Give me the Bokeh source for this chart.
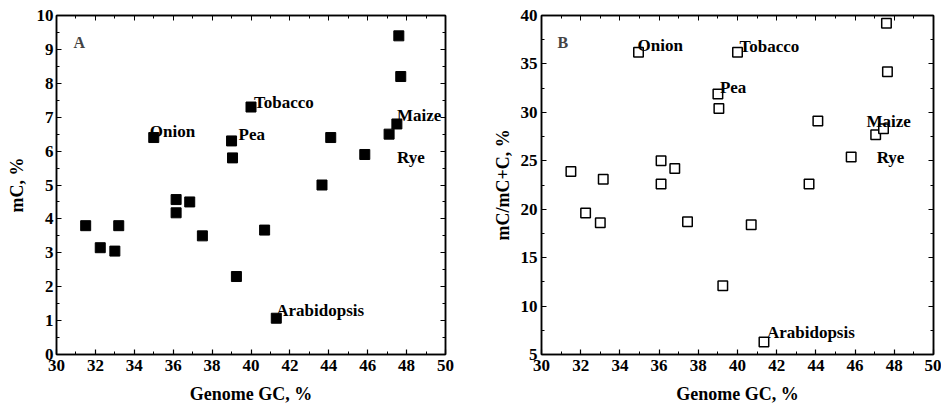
from bokeh.plotting import figure
from bokeh.models import Range1d, SingleIntervalTicker, LinearAxis, Label
from bokeh.layouts import row
from bokeh.embed import file_html
from bokeh.resources import INLINE

# ---- data ----
gc_a = [31.5, 32.25, 33.0, 33.2, 35.0, 36.15, 36.15, 36.85, 37.5, 39.0, 39.05,
        39.25, 40.0, 40.7, 41.3, 43.65, 44.1, 45.85, 47.1, 47.5, 47.6, 47.7]
mc_pct = [3.8, 3.15, 3.05, 3.8, 6.4, 4.57, 4.18, 4.5, 3.5, 6.3, 5.8,
          2.3, 7.3, 3.67, 1.07, 5.0, 6.4, 5.9, 6.5, 6.8, 9.4, 8.2]

gc_b = [31.5, 32.25, 33.0, 33.15, 34.95, 36.1, 36.1, 36.8, 37.45, 39.0, 39.05,
        39.25, 40.0, 40.7, 41.35, 43.65, 44.1, 45.8, 47.05, 47.45, 47.6, 47.65]
mc_ratio = [23.9, 19.6, 18.6, 23.1, 36.2, 25.0, 22.6, 24.2, 18.7, 31.9, 30.4,
            12.1, 36.2, 18.4, 6.3, 22.6, 29.1, 25.4, 27.7, 28.3, 39.2, 34.2]

label_names = ["Onion", "Pea", "Tobacco", "Arabidopsis", "Rye", "Maize"]
label_index = [4, 9, 12, 14, 18, 19]

# ---- styling ----
FONT = "Liberation Serif"
offs_a = {"Onion": (-4, -6), "Pea": (7, -6), "Tobacco": (3, -5),
          "Arabidopsis": (0, -8), "Rye": (8, 23), "Maize": (0, -8)}
offs_b = {"Onion": (-1, -7), "Pea": (2, -6), "Tobacco": (2, -6),
          "Arabidopsis": (3, -9), "Rye": (1, 23), "Maize": (-17, -7)}


def make_fig(fw, ylo, yhi, yint, ylabel, bl, br, lab_standoff, tick_standoff):
    p = figure(frame_width=fw, frame_height=339,
               x_range=Range1d(30, 50), y_range=Range1d(ylo, yhi),
               output_backend="svg", toolbar_location=None,
               min_border_left=bl, min_border_right=br,
               min_border_top=15, min_border_bottom=55,
               background_fill_color="white", border_fill_color="white")
    p.grid.visible = False
    p.outline_line_color = "black"
    p.outline_line_width = 1.5
    xt = SingleIntervalTicker(interval=2, num_minor_ticks=2)
    yt = SingleIntervalTicker(interval=yint, num_minor_ticks=2)
    p.xaxis.ticker = xt
    p.yaxis.ticker = yt
    p.xaxis.axis_label = "Genome GC, %"
    p.yaxis.axis_label = ylabel
    for ax in (p.xaxis[0], p.yaxis[0]):
        ax.axis_line_width = 1.5
        ax.major_tick_in = 5
        ax.major_tick_out = 0
        ax.minor_tick_in = 3
        ax.minor_tick_out = 0
        ax.major_tick_line_width = 1.2
        ax.major_label_text_font = FONT
        ax.major_label_text_font_style = "bold"
        ax.major_label_text_font_size = "17px"
        ax.major_label_text_color = "black"
        ax.axis_label_text_font = FONT
        ax.axis_label_text_font_style = "bold"
        ax.axis_label_text_font_size = "18px"
        ax.axis_label_text_color = "black"
    p.xaxis.major_label_standoff = 5
    p.xaxis.axis_label_standoff = 10
    p.yaxis.major_label_standoff = tick_standoff
    p.yaxis.axis_label_standoff = lab_standoff
    for loc, tk in (("above", xt), ("right", yt)):
        ax = LinearAxis(ticker=tk, major_label_text_font_size="1px",
                        major_label_text_color=None,
                        major_label_standoff=0, axis_line_width=1.5,
                        major_tick_in=5, major_tick_out=0,
                        minor_tick_in=3, minor_tick_out=0)
        p.add_layout(ax, loc)
    return p


pa = make_fig(389, 0, 10, 1, "mC, %", 56, 25, 7, 3)
pa.scatter(gc_a, mc_pct, marker="square", size=10,
           fill_color="black", line_color="black")

pb = make_fig(392, 5, 40, 5, "mC/mC+C, %", 71, 8, 5, 4)
pb.scatter(gc_b, mc_ratio, marker="square", size=9.5,
           fill_color="white", line_color="black", line_width=1.5)

for p, xs, ys, offs in ((pa, gc_a, mc_pct, offs_a), (pb, gc_b, mc_ratio, offs_b)):
    for name, i in zip(label_names, label_index):
        dx, dy = offs[name]
        p.add_layout(Label(x=xs[i], y=ys[i], text=name, x_offset=dx, y_offset=-dy,
                           text_font=FONT, text_font_style="bold",
                           text_font_size="17px", text_color="black",
                           text_baseline="alphabetic", text_align="left"))

pa.add_layout(Label(x=30.87, y=9.2, text="A", text_font=FONT, text_font_style="bold",
                    text_font_size="16px", text_baseline="alphabetic"))
pb.add_layout(Label(x=30.82, y=37.2, text="B", text_font=FONT, text_font_style="bold",
                    text_font_size="16px", text_baseline="alphabetic"))

layout = row(pa, pb)
open("out.html", "w").write(file_html(layout, INLINE))
